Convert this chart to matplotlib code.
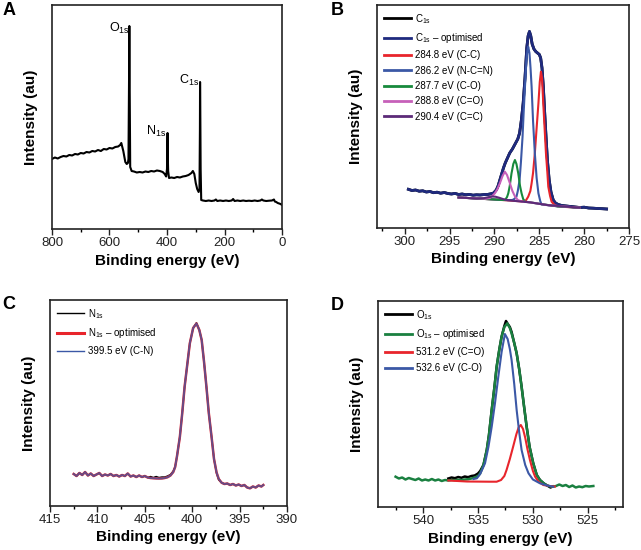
import numpy as np
import matplotlib.pyplot as plt
from matplotlib.ticker import MultipleLocator

plt.rcParams['font.family'] = ['Liberation Sans', 'DejaVu Sans']
plt.rcParams['mathtext.fontset'] = 'custom'
plt.rcParams['mathtext.rm'] = 'Liberation Sans'
plt.rcParams['mathtext.default'] = 'regular'

# ---- A: survey spectrum (binding energy eV, intensity au)
survey_e = [800, 790, 780, 770, 760, 750, 740, 730, 720, 710, 700, 690, 680, 670, 660, 650,
            640, 630, 620, 610, 600, 590, 580, 570, 563, 559, 552, 545, 540, 536, 534, 532,
            531, 530, 528, 523, 515, 505, 495, 485, 475, 465, 455, 445, 435, 425, 415, 408,
            403, 400, 399, 398, 397, 396, 393, 385, 375, 365, 355, 345, 335, 325, 315, 310,
            305, 300, 295, 290, 287, 285.5, 285, 284, 283, 281, 275, 265, 255, 245, 235, 230,
            225, 215, 205, 195, 185, 175, 170, 165, 155, 145, 135, 125, 115, 105, 95, 85,
            75, 70, 65, 55, 45, 35, 28, 25, 20, 15, 10, 5, 0]
survey_i = [70, 71.5, 70.5, 72, 73, 72.5, 74, 73.5, 75, 74.5, 76, 75.5, 77, 76.5, 78, 77.5,
            79, 78, 80, 79.5, 81, 80.5, 82, 82.5, 84, 86, 78, 67, 65, 66, 70, 150,
            203, 150, 62, 58, 57.5, 56.5, 57, 56.5, 57.5, 57, 58, 57.5, 58.5, 58, 57, 55,
            52.5, 60, 80, 96, 70, 58, 51, 51.5, 51, 52, 51.5, 52.5, 53, 54, 56, 58,
            55, 46, 40, 37, 40, 100, 147, 110, 60, 29, 28.5, 28, 28.5, 28, 28.5, 29.5,
            28, 28.5, 28, 28.5, 28, 28.5, 30, 28, 28.5, 28, 28.5, 28, 28.3, 28, 28.5, 28,
            28.5, 29.5, 28.5, 28, 28.3, 28.5, 29.5, 27.5, 27, 26, 25.5, 25, 24]

# ---- B: C1s
c1s_e = [299.6, 299.2, 298.8, 298.4, 298.0, 297.6, 297.2, 296.8, 296.4, 296.0, 295.6, 295.2,
         294.8, 294.4, 294.0, 293.6, 293.2, 292.8, 292.4, 292.0, 291.6, 291.2, 290.8, 290.4,
         290.1, 289.8, 289.6, 289.4, 289.2, 289.0, 288.8, 288.6, 288.3, 288.0, 287.7, 287.4,
         287.2, 287.0, 286.8, 286.6, 286.4, 286.25, 286.1, 285.95, 285.8, 285.6, 285.4, 285.2,
         285.0, 284.85, 284.7, 284.55, 284.4, 284.25, 284.1, 283.9, 283.7, 283.45, 283.2, 282.9,
         282.5, 282.0, 281.5, 281.0, 280.5, 280.0, 279.5, 279.0, 278.5, 278.0, 277.5]
c1s_i = [38.7, 37.5, 38, 36.8, 37.2, 36, 36.5, 35.3, 35.8, 34.8, 35.5, 34.5,
         34, 34.6, 33.5, 34, 33.2, 33.6, 32.8, 33.2, 33, 33.4, 33.5, 34.2,
         35, 38, 42, 48, 54, 60, 65, 69, 75, 79, 84, 89,
         95, 108, 125, 150, 180, 192, 196.5, 192, 184, 179, 176.5, 175,
         173.5, 170, 160, 141, 115, 91, 68, 48, 36, 28, 25, 23.5,
         22.5, 22, 21.5, 21, 20.5, 20.8, 20, 19.8, 19.5, 19.3, 19]

cc_e = [294, 290, 288, 287, 286.5, 286.24, 286.0, 285.86, 285.7, 285.5, 285.3, 285.1, 284.95,
        284.82, 284.7, 284.56, 284.4, 284.26, 284.1, 284.0, 283.8, 283.63, 283.3, 283, 282, 280.5]
cc_i = [30.5, 28.5, 27.3, 26.6, 27.5, 31.3, 37, 44.7, 55, 74.7, 100, 124.7, 146,
        156.3, 150, 124.7, 98, 74.7, 55, 41.3, 32, 26.3, 23, 21.7, 21, 20.3]

ncn_e = [294, 290, 288.5, 288, 287.8, 287.55, 287.4, 287.2, 287.05, 286.87, 286.75, 286.6, 286.45,
         286.32, 286.24, 286.1, 285.98, 285.86, 285.7, 285.5, 285.3, 285.1, 284.9, 284.75, 284,
         283, 280.5]
ncn_i = [30.5, 28.5, 27.8, 28, 29, 31.3, 37, 48, 66, 91.3, 115, 141.3, 166,
         178, 181.3, 175, 160, 141.3, 107, 74.7, 50, 34.7, 27, 23.5, 22.8,
         21.7, 20.3]

co_e = [294, 290, 289, 288.8, 288.6, 288.46, 288.3, 288.1, 287.9, 287.72, 287.55, 287.35, 287.15,
        286.98, 286.8, 286.6, 286, 285, 283, 280.5]
co_i = [30.5, 28.5, 28, 28.3, 31, 34.7, 42, 54.7, 64, 68, 64, 54.7, 42,
        34.7, 29, 26.3, 25.6, 24.2, 21.7, 20.3]

c_o_e = [294, 291, 290.5, 290.2, 289.96, 289.7, 289.4, 289.1, 288.84, 288.6, 288.28, 288, 287.7,
         287.4, 287, 286, 284, 280.5]
c_o_i = [30.5, 29.2, 30, 32.5, 34.7, 38.5, 44.7, 52, 56.3, 53, 44.7, 37, 31.3,
         28, 26.6, 25.6, 22.8, 20.3]

cc2_e = [294, 292, 291.2, 290.7, 290.3, 289.9, 289.5, 289, 288.5, 288, 286, 284, 280.5]
cc2_i = [30.5, 29.5, 29.8, 30.8, 31.5, 31.3, 30.3, 28.8, 27.8, 27.3, 25.6, 22.8, 20.3]

# ---- C: N1s
n1s_e = [412.5, 412.2, 411.9, 411.6, 411.3, 411.0, 410.7, 410.4, 410.1, 409.8, 409.5, 409.2,
         408.9, 408.6, 408.3, 408.0, 407.7, 407.4, 407.1, 406.8, 406.5, 406.2, 405.9, 405.6,
         405.3, 405.0, 404.7, 404.4, 404.1, 403.8, 403.5, 403.2, 402.9, 402.6, 402.3, 402.0,
         401.8, 401.6, 401.3, 401.05, 400.8, 400.5, 400.25, 399.9, 399.55, 399.25, 399.0, 398.75,
         398.5, 398.25, 397.96, 397.7, 397.43, 397.2, 396.9, 396.6, 396.3, 396.0, 395.7, 395.4,
         395.1, 394.8, 394.5, 394.2, 393.9, 393.6, 393.3, 393.0, 392.7, 392.5]
n1s_i = [32, 30, 33, 31, 34, 30.5, 32.5, 30, 31.5, 33, 30, 31.5,
         30.5, 32, 30, 31, 29.5, 31, 30, 32.5, 29.5, 30.5, 29, 30.5,
         29, 30, 28.5, 29.5, 28.5, 29.5, 28.5, 29, 29, 30, 31.5, 35,
         39.3, 50, 69.3, 93, 119.3, 143, 162.7, 178, 183.3, 176, 166, 144,
         119.3, 93, 69.3, 47, 32.7, 26, 23.3, 22, 22.5, 21, 22, 20.5,
         21.5, 20, 21, 18.5, 17.7, 19.5, 18.5, 20.5, 19.5, 21]
n1s_fit = [32, 30, 33, 31, 34, 30.5, 32.5, 30, 31.5, 33, 30, 31.5,
           30.5, 32, 30, 31, 29.5, 31, 30, 32.5, 29.5, 30.5, 29, 30.5,
           29, 30, 28.5, 28, 27.8, 27.6, 27.5, 27.6, 28, 28.8, 30.5, 34,
           39, 50, 69.3, 93, 119.3, 143, 162.7, 178, 182.5, 176, 166, 144,
           119.3, 93, 69.3, 47, 33.5, 27, 23.3, 22, 22.5, 21, 22, 20.5,
           21.5, 20, 21, 18.5, 17.7, 19.5, 18.5, 20.5, 19.5, 21]

# ---- D: O1s
o1s_e = [542.5, 542.2, 541.9, 541.6, 541.3, 541.0, 540.7, 540.4, 540.1, 539.8, 539.5, 539.2,
         538.9, 538.6, 538.3, 538.0, 537.7, 537.4, 537.1, 536.8, 536.5, 536.2, 535.9, 535.6,
         535.3, 535.0, 534.8, 534.5, 534.2, 534.0, 533.75, 533.5, 533.3, 533.05, 532.85, 532.6,
         532.33, 532.1, 531.94, 531.7, 531.48, 531.25, 531.03, 530.8, 530.57, 530.3, 529.97, 529.65,
         529.36, 529.0, 528.7, 528.4, 528.15, 527.9, 527.6, 527.3, 527.0, 526.7, 526.4, 526.1,
         525.8, 525.5, 525.2, 524.9, 524.5]
o1s_fit = [30.3, 28.5, 29.5, 27.5, 29, 28, 27, 28.5, 26.5, 27.5, 26.5, 28,
           26.5, 27.5, 26, 27, 26.5, 27, 26.8, 27.2, 27, 27.5, 27.8, 28.5,
           29.5, 31, 33.7, 42, 57, 72, 97, 120, 140.3, 158, 170.3, 180,
           183.7, 179, 173.7, 164, 153.7, 138, 120.3, 100, 80.3, 60, 43.7, 32,
           27, 23.5, 21.5, 20.5, 20.3, 21, 22.5, 21, 22, 20, 21.5, 19.5,
           20.5, 19.8, 21, 20.5, 21]
o1s_data_e = [537.7, 537.4, 537.1, 536.8, 536.5, 536.2, 535.9, 535.6, 535.3, 535.0, 534.8, 534.5,
              534.2, 534.0, 533.75, 533.5, 533.3, 533.05, 532.85, 532.6, 532.45, 532.33, 532.1, 531.94,
              531.7, 531.48, 531.25, 531.03, 530.8, 530.57, 530.3, 529.97, 529.65, 529.36, 529.0, 528.7,
              528.4, 528.2]
o1s_data = [28.5, 29.5, 28.8, 30, 29.2, 30.5, 29.8, 31, 31.5, 33.5, 36, 42,
            57, 72, 97, 120, 140.3, 158, 170.3, 181, 186, 183.7, 180, 175,
            164, 153.7, 138, 120.3, 100, 80.3, 60, 43.7, 32, 27, 23.5, 21.5,
            19.5, 20.5]

o_c_e = [537.7, 536, 534, 533.3, 532.9, 532.6, 532.4, 532.1, 531.8, 531.5, 531.3, 531.1, 530.9,
         530.7, 530.5, 530.27, 530.0, 529.8, 529.5, 529.06, 528.5, 528.0]
o_c_i = [26.5, 25.5, 25.3, 25.3, 27, 31, 37, 48, 60.3, 73, 79.5, 82, 78,
         69.3, 58, 47, 36, 30.3, 25.5, 22, 21, 20.5]

oc_e = [535.4, 535.1, 534.8, 534.36, 534.05, 533.75, 533.45, 533.15, 532.85, 532.55, 532.3, 532.1,
        531.94, 531.7, 531.48, 531.25, 531.03, 530.7, 530.4, 530.0, 529.36, 528.7, 528.15]
oc_i = [28, 28.7, 33, 43.7, 60, 80.3, 104, 130.3, 155, 173, 168, 158,
        147, 123, 97, 75, 57, 42, 33.7, 27.5, 23.7, 21.5, 20.3]

W, H = 641, 550
fig = plt.figure(figsize=(W / 100, H / 100), dpi=100)


def make_ax(left, top, right, bottom):
    ax = fig.add_axes([left / W, 1 - bottom / H, (right - left) / W, (bottom - top) / H])
    for s in ax.spines.values():
        s.set_linewidth(1.2)
        s.set_color('#222222')
    ax.set_yticks([])
    ax.tick_params(axis='x', direction='out', length=4, width=1.0, labelsize=9.5,
                   colors='#222222', pad=2)
    ax.tick_params(axis='x', which='minor', direction='out', length=2.5, width=1.0)
    ax.set_xlabel('Binding energy (eV)', fontsize=11, fontweight='bold', labelpad=3)
    ax.set_ylabel('Intensity (au)', fontsize=11, fontweight='bold', labelpad=10)
    return ax


# A
axA = make_ax(52, 5, 282, 229)
axA.plot(survey_e, survey_i, color='black', lw=1.5)
axA.set_xlim(800, 0)
axA.set_ylim(0, 224)
axA.xaxis.set_major_locator(MultipleLocator(200))
axA.xaxis.set_minor_locator(MultipleLocator(100))
axA.text(565, 201, 'O$_{1s}$', fontsize=9, ha='center', va='center')
axA.text(437, 98, 'N$_{1s}$', fontsize=9, ha='center', va='center')
axA.text(324, 149, 'C$_{1s}$', fontsize=9, ha='center', va='center')

# B
axB = make_ax(377, 5, 629, 228)
axB.plot(c1s_e, c1s_i, color='black', lw=2.0, label='C$_{1s}$')
axB.plot(c1s_e, c1s_i, color='#1f2a7e', lw=2.0, label='C$_{1s}$ – optimised')
axB.plot(cc_e, cc_i, color='#e8252c', lw=1.5, label='284.8 eV (C-C)')
axB.plot(ncn_e, ncn_i, color='#3b58a6', lw=1.5, label='286.2 eV (N-C=N)')
axB.plot(co_e, co_i, color='#178a3c', lw=1.5, label='287.7 eV (C-O)')
axB.plot(c_o_e, c_o_i, color='#c660b9', lw=1.5, label='288.8 eV (C=O)')
axB.plot(cc2_e, cc2_i, color='#5c2a78', lw=1.5, label='290.4 eV (C=C)')
axB.set_xlim(303.1, 275)
axB.set_ylim(0, 223)
axB.xaxis.set_major_locator(MultipleLocator(5))
axB.xaxis.set_minor_locator(MultipleLocator(2.5))
legB = axB.legend(loc='upper left', fontsize=7, frameon=False, handlelength=2.8,
                  handletextpad=0.4, labelspacing=0.55, borderaxespad=0.3)
for h in legB.get_lines():
    h.set_linewidth(2)

# C
axC = make_ax(50, 300, 287, 506)
axC.plot(n1s_e, n1s_i, color='black', lw=1.0, label='N$_{1s}$')
axC.plot(n1s_e, n1s_fit, color='#e8252c', lw=1.8, label='N$_{1s}$ – optimised')
axC.plot(n1s_e, n1s_fit, color='#3b58a6', lw=1.4, alpha=0.75, label='399.5 eV (C-N)')
axC.set_xlim(415, 390)
axC.set_ylim(0, 206)
axC.xaxis.set_major_locator(MultipleLocator(5))
axC.xaxis.set_minor_locator(MultipleLocator(2.5))
legC = axC.legend(loc='upper left', fontsize=7, frameon=False, handlelength=2.8,
                  handletextpad=0.4, labelspacing=0.6, borderaxespad=0.3)
for h, w in zip(legC.get_lines(), [1.0, 2.2, 1.0]):
    h.set_linewidth(w)
    h.set_alpha(1)

# D
axD = make_ax(378, 301, 623, 507)
axD.plot(o1s_data_e, o1s_data, color='black', lw=1.8, label='O$_{1s}$')
axD.plot(o1s_e, o1s_fit, color='#1a8040', lw=1.8, label='O$_{1s}$ – optimised')
axD.plot(o_c_e, o_c_i, color='#e8252c', lw=1.5, label='531.2 eV (C=O)')
axD.plot(oc_e, oc_i, color='#3b58a6', lw=1.5, label='532.6 eV (C-O)')
axD.set_xlim(544.1, 521.8)
axD.set_ylim(0, 206)
axD.xaxis.set_major_locator(MultipleLocator(5))
axD.xaxis.set_minor_locator(MultipleLocator(2.5))
legD = axD.legend(loc='upper left', fontsize=7, frameon=False, handlelength=2.8,
                  handletextpad=0.4, labelspacing=0.6, borderaxespad=0.3)
for h in legD.get_lines():
    h.set_linewidth(2)

for lbl, x, y in [('A', 3, 2), ('B', 331, 2), ('C', 2, 296), ('D', 331, 297)]:
    fig.text(x / W, 1 - y / H, lbl, fontsize=13, fontweight='bold', ha='left', va='top')

fig.savefig('out.png', dpi=100)
